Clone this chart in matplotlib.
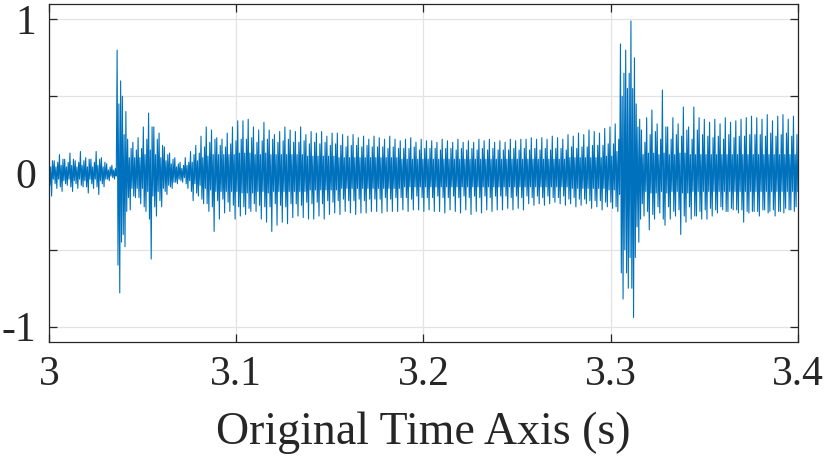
import numpy as np
import matplotlib
matplotlib.use("Agg")
import matplotlib.pyplot as plt

# ---- data (one entry per ~2.8 ms pitch period) ----
t_start = 3.0
period = 0.0028

# largest upward excursion in each period
peak_up = [
    0.10, 0.08, 0.12, 0.09, 0.13, 0.08, 0.14, 0.10, 0.09, 0.14, 0.10, 0.06, 0.05,
    0.80, 0.50, 0.22, 0.20, 0.23, 0.30, 0.39, 0.30, 0.26, 0.17, 0.13, 0.10, 0.07,
    0.10, 0.14, 0.18, 0.24, 0.30, 0.28, 0.23, 0.22, 0.26, 0.30, 0.34,
    0.34, 0.35, 0.30, 0.28, 0.33, 0.28, 0.25, 0.27, 0.30, 0.28, 0.27, 0.30, 0.25, 0.27, 0.26, 0.27, 0.24, 0.26,
    0.26, 0.25, 0.24, 0.25, 0.23, 0.24, 0.22, 0.24, 0.23, 0.22, 0.24, 0.22, 0.21, 0.22, 0.23, 0.20, 0.22, 0.21,
    0.21, 0.20, 0.22, 0.21, 0.20, 0.22, 0.20, 0.21, 0.20, 0.22, 0.21, 0.22, 0.20, 0.21, 0.20, 0.22, 0.21, 0.22,
    0.22, 0.23, 0.22, 0.23, 0.22, 0.24, 0.23, 0.22, 0.25, 0.24, 0.26, 0.25, 0.28, 0.27, 0.26, 0.29, 0.30, 0.32,
    0.84, 0.80, 0.99, 0.45,
    0.28, 0.36, 0.41, 0.32, 0.54, 0.30, 0.36, 0.32, 0.43, 0.30, 0.43, 0.36, 0.35, 0.33,
    0.35, 0.32, 0.36, 0.33, 0.34, 0.35, 0.36, 0.37, 0.36, 0.35, 0.38, 0.34, 0.37, 0.38, 0.35, 0.37,
]
# largest downward excursion in each period
peak_dn = [
    -0.15, -0.10, -0.12, -0.08, -0.12, -0.10, -0.09, -0.13, -0.10, -0.14, -0.09, -0.05, -0.04,
    -0.78, -0.48, -0.24, -0.16, -0.20, -0.25, -0.56, -0.28, -0.22, -0.14, -0.10, -0.07, -0.06,
    -0.10, -0.18, -0.15, -0.20, -0.25, -0.38, -0.30, -0.26, -0.25, -0.30, -0.28,
    -0.27, -0.25, -0.25, -0.30, -0.32, -0.38, -0.34, -0.32, -0.33, -0.29, -0.28, -0.29, -0.30, -0.30, -0.28, -0.30, -0.27, -0.26,
    -0.27, -0.25, -0.26, -0.27, -0.26, -0.26, -0.25, -0.25, -0.26, -0.25, -0.25, -0.25, -0.24, -0.25, -0.24, -0.24, -0.25, -0.24,
    -0.25, -0.25, -0.26, -0.24, -0.25, -0.26, -0.24, -0.27, -0.25, -0.26, -0.24, -0.25, -0.24, -0.24, -0.23, -0.24, -0.23, -0.24,
    -0.20, -0.21, -0.20, -0.21, -0.20, -0.19, -0.20, -0.21, -0.20, -0.22, -0.21, -0.20, -0.23, -0.22, -0.24, -0.22, -0.23, -0.25,
    -0.82, -0.75, -0.94, -0.45,
    -0.28, -0.37, -0.30, -0.26, -0.34, -0.30, -0.28, -0.40, -0.32, -0.30, -0.28, -0.30, -0.30, -0.28,
    -0.26, -0.24, -0.25, -0.24, -0.26, -0.32, -0.26, -0.25, -0.28, -0.24, -0.25, -0.28, -0.25, -0.23, -0.24, -0.22,
]
# secondary (lighter) strokes in each period
mid_amp = [
    0.08, 0.07, 0.09, 0.07, 0.09, 0.07, 0.08, 0.09, 0.07, 0.09, 0.07, 0.04, 0.03,
    0.60, 0.40, 0.16, 0.15, 0.16, 0.22, 0.30, 0.22, 0.18, 0.12, 0.09, 0.06, 0.05,
    0.07, 0.12, 0.13, 0.17, 0.20, 0.22, 0.18, 0.17, 0.19, 0.21, 0.22,
    0.22, 0.23, 0.20, 0.21, 0.22, 0.22, 0.20, 0.21, 0.22, 0.20, 0.20, 0.21, 0.19, 0.20, 0.19, 0.20, 0.18, 0.19,
    0.18, 0.17, 0.18, 0.18, 0.17, 0.18, 0.17, 0.17, 0.17, 0.16, 0.17, 0.16, 0.16, 0.16, 0.17, 0.15, 0.16, 0.16,
    0.16, 0.15, 0.16, 0.16, 0.15, 0.16, 0.15, 0.16, 0.15, 0.16, 0.15, 0.16, 0.15, 0.15, 0.15, 0.16, 0.15, 0.16,
    0.15, 0.16, 0.15, 0.16, 0.15, 0.16, 0.16, 0.15, 0.17, 0.16, 0.17, 0.17, 0.18, 0.18, 0.18, 0.19, 0.19, 0.22,
    0.65, 0.65, 0.75, 0.35,
    0.20, 0.25, 0.27, 0.22, 0.30, 0.22, 0.25, 0.24, 0.28, 0.22, 0.28, 0.25, 0.24, 0.23,
    0.24, 0.22, 0.25, 0.23, 0.24, 0.24, 0.25, 0.25, 0.25, 0.24, 0.26, 0.24, 0.25, 0.26, 0.24, 0.25,
]
# dense inner band of each period
core_amp = [
    0.04, 0.04, 0.05, 0.04, 0.05, 0.04, 0.05, 0.04, 0.04, 0.05, 0.04, 0.02, 0.02,
    0.45, 0.25, 0.10, 0.10, 0.10, 0.12, 0.15, 0.12, 0.10, 0.08, 0.06, 0.04, 0.03,
    0.05, 0.07, 0.08, 0.10, 0.11, 0.12, 0.12, 0.12, 0.12, 0.12, 0.13,
    0.13, 0.13, 0.12, 0.12, 0.13, 0.12, 0.12, 0.12, 0.12, 0.12, 0.12, 0.12, 0.11, 0.11, 0.11, 0.11, 0.11, 0.11,
    0.10, 0.10, 0.10, 0.10, 0.10, 0.10, 0.10, 0.10, 0.10, 0.10, 0.10, 0.10, 0.09, 0.09, 0.09, 0.09, 0.09, 0.09,
    0.09, 0.09, 0.09, 0.09, 0.09, 0.09, 0.09, 0.09, 0.09, 0.09, 0.09, 0.09, 0.09, 0.09, 0.09, 0.09, 0.09, 0.09,
    0.09, 0.09, 0.09, 0.09, 0.09, 0.09, 0.09, 0.09, 0.10, 0.10, 0.10, 0.10, 0.10, 0.10, 0.10, 0.11, 0.11, 0.14,
    0.50, 0.55, 0.55, 0.30,
    0.12, 0.13, 0.13, 0.12, 0.13, 0.12, 0.12, 0.13, 0.13, 0.12, 0.12, 0.12, 0.12, 0.12,
    0.12, 0.12, 0.12, 0.12, 0.12, 0.12, 0.12, 0.12, 0.12, 0.12, 0.12, 0.12, 0.12, 0.12, 0.12, 0.12,
]

x_ticks = [3.0, 3.1, 3.2, 3.3, 3.4]
x_ticklabels = ["3", "3.1", "3.2", "3.3", "3.4"]
y_ticks = [-1, -0.5, 0, 0.5, 1]
y_ticklabels = ["-1", "", "0", "", "1"]
x_label = "Original Time Axis (s)"

# ---- assemble the sample sequence: peak, -mid, core, trough, mid, -core ----
up = np.array(peak_up)
dn = np.array(peak_dn)
md = np.array(mid_amp)
cc = np.array(core_amp)
vals = np.column_stack([up, -md, cc, dn, md, -cc]).ravel()
times = t_start + np.arange(vals.size) * (period / 6)

plt.rcParams["font.family"] = ["Liberation Serif", "DejaVu Serif"]

fig = plt.figure(figsize=(8.30, 4.63), dpi=100)
ax = fig.add_axes([0.059, 0.2613, 0.9024, 0.7300])

ax.plot(times, vals, color="#0072BD", lw=0.8)

ax.set_xlim(3.0, 3.4)
ax.set_ylim(-1.1, 1.1)
ax.set_xticks(x_ticks)
ax.set_xticklabels(x_ticklabels)
ax.set_yticks(y_ticks)
ax.set_yticklabels(y_ticklabels)

ax.grid(True, color="#e3e3e3", lw=0.9)
ax.set_axisbelow(True)
for s in ax.spines.values():
    s.set_color("#262626")
    s.set_linewidth(0.9)
ax.tick_params(direction="in", length=6, width=0.9, color="#262626",
               top=True, right=True, labelsize=30, labelcolor="#262626")
ax.tick_params(axis="x", pad=10)
ax.tick_params(axis="y", pad=9)
ax.set_xlabel(x_label, fontsize=33, color="#262626", labelpad=12)

fig.savefig("out.png", dpi=100)
